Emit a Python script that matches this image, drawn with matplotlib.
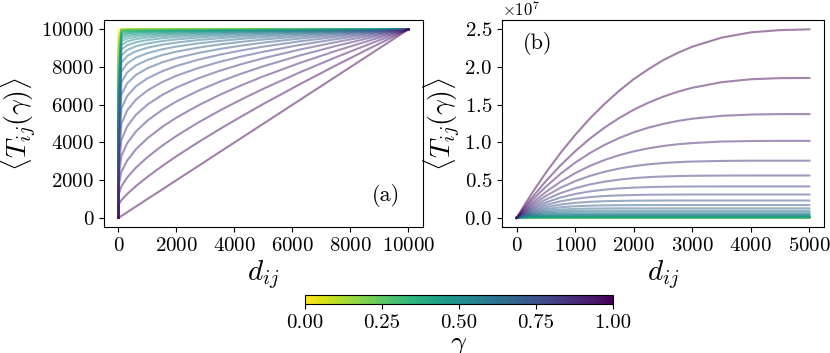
import matplotlib
matplotlib.use("Agg")
import matplotlib.pyplot as plt
from matplotlib import cm, colors
from matplotlib.ticker import MultipleLocator

plt.rcParams.update({
    "font.family": "serif",
    "font.serif": ["cmr10"],
    "mathtext.fontset": "cm",
    "axes.formatter.use_mathtext": True,
    "axes.unicode_minus": False,
})

# gamma of each curve, row order of the tables below
gamma = [1.0, 0.967, 0.933, 0.9, 0.867, 0.833, 0.8, 0.767, 0.733, 0.7,
         0.667, 0.633, 0.6, 0.567, 0.533, 0.5, 0.467, 0.433, 0.4, 0.367,
         0.333, 0.3, 0.267, 0.233, 0.2, 0.167, 0.133, 0.1, 0.067, 0.033, 0.0]

# panel (a): <T_ij> read at these distances
d_a = [0, 1, 100, 300, 600, 1000, 1500, 2000, 2750, 3500, 4250, 5000,
       6250, 7500, 8750, 10000]
tij_a = [
    [0, 1, 100, 300, 600, 1000, 1500, 2000, 2750, 3500, 4250, 5000, 6250, 7500, 8750, 10000],
    [0, 704, 938, 1265, 1684, 2177, 2742, 3271, 4013, 4717, 5390, 6046, 7087, 8090, 9058, 10000],
    [0, 1210, 1671, 2142, 2663, 3223, 3821, 4348, 5058, 5699, 6292, 6851, 7715, 8521, 9280, 10000],
    [0, 1660, 2449, 3044, 3636, 4225, 4818, 5319, 5966, 6531, 7042, 7509, 8216, 8857, 9449, 10000],
    [0, 2077, 3279, 3961, 4581, 5163, 5720, 6176, 6745, 7231, 7657, 8042, 8613, 9118, 9579, 10000],
    [0, 2471, 4136, 4858, 5466, 6010, 6515, 6915, 7402, 7808, 8158, 8470, 8926, 9322, 9678, 10000],
    [0, 2851, 4989, 5702, 6271, 6760, 7199, 7540, 7948, 8280, 8563, 8813, 9171, 9480, 9754, 10000],
    [0, 3214, 5797, 6467, 6976, 7401, 7773, 8057, 8390, 8659, 8885, 9083, 9363, 9602, 9813, 10000],
    [0, 3566, 6537, 7138, 7580, 7938, 8246, 8478, 8747, 8961, 9139, 9294, 9512, 9696, 9857, 10000],
    [0, 3910, 7193, 7714, 8085, 8381, 8631, 8817, 9031, 9200, 9339, 9459, 9627, 9769, 9892, 10000],
    [0, 4244, 7754, 8193, 8499, 8739, 8939, 9087, 9255, 9386, 9495, 9587, 9717, 9825, 9918, 10000],
    [0, 4574, 8227, 8589, 8836, 9026, 9184, 9299, 9430, 9532, 9615, 9686, 9785, 9868, 9938, 10000],
    [0, 4893, 8615, 8907, 9102, 9253, 9376, 9466, 9566, 9645, 9708, 9763, 9838, 9900, 9953, 10000],
    [0, 5210, 8928, 9160, 9314, 9430, 9525, 9594, 9672, 9731, 9780, 9821, 9878, 9925, 9965, 10000],
    [0, 5520, 9178, 9359, 9479, 9569, 9641, 9694, 9753, 9798, 9834, 9866, 9908, 9944, 9974, 10000],
    [0, 5823, 9375, 9515, 9606, 9675, 9730, 9770, 9815, 9848, 9876, 9899, 9932, 9958, 9980, 10000],
    [0, 6126, 9530, 9637, 9706, 9757, 9799, 9829, 9862, 9887, 9908, 9925, 9949, 9969, 9985, 10000],
    [0, 6421, 9648, 9728, 9781, 9819, 9850, 9873, 9898, 9917, 9932, 9945, 9962, 9977, 9989, 10000],
    [0, 6714, 9738, 9799, 9838, 9867, 9890, 9906, 9925, 9939, 9950, 9959, 9972, 9983, 9992, 10000],
    [0, 7005, 9808, 9853, 9879, 9902, 9918, 9931, 9944, 9955, 9963, 9970, 9980, 9988, 9994, 10000],
    [0, 7290, 9860, 9893, 9913, 9929, 9941, 9950, 9960, 9967, 9973, 9978, 9985, 9991, 9996, 10000],
    [0, 7573, 9899, 9923, 9937, 9949, 9958, 9964, 9971, 9976, 9981, 9984, 9990, 9994, 9997, 10000],
    [0, 7851, 9928, 9945, 9955, 9964, 9970, 9975, 9979, 9983, 9986, 9989, 9992, 9995, 9998, 10000],
    [0, 8128, 9950, 9962, 9969, 9975, 9979, 9982, 9986, 9988, 9991, 9992, 9995, 9997, 9998, 10000],
    [0, 8403, 9966, 9974, 9979, 9983, 9986, 9988, 9990, 9992, 9994, 9995, 9996, 9998, 9999, 10000],
    [0, 8674, 9977, 9982, 9986, 9988, 9990, 9992, 9994, 9995, 9996, 9997, 9998, 9999, 9999, 10000],
    [0, 8944, 9985, 9989, 9991, 9993, 9994, 9995, 9996, 9997, 9997, 9998, 9999, 9999, 10000, 10000],
    [0, 9211, 9991, 9993, 9995, 9996, 9996, 9997, 9998, 9998, 9999, 9999, 10000, 10000, 10000, 10000],
    [0, 9476, 9995, 9996, 9997, 9998, 9998, 9998, 9999, 9999, 9999, 9999, 10000, 10000, 10000, 10000],
    [0, 9739, 9998, 9999, 9999, 9999, 9999, 10000, 10000, 10000, 10000, 10000, 10000, 10000, 10000, 10000],
    [0, 10000, 10000, 10000, 10000, 10000, 10000, 10000, 10000, 10000, 10000, 10000, 10000, 10000, 10000, 10000],
]

# panel (b): <T_ij> in units of 1e6
d_b = [0, 100, 250, 500, 750, 1000, 1250, 1500, 1750, 2000, 2250, 2500,
       2750, 3000, 3500, 4000, 4500, 5000]
tij_b = [
    [0, 1.28, 3.13, 6.00, 8.61, 11.0, 13.17, 15.1, 16.84, 18.4, 19.71, 20.9, 21.87, 22.7, 23.9, 24.6, 24.9, 25.0],
    [0, 1.06, 2.56, 4.88, 6.97, 8.83, 10.50, 11.96, 13.23, 14.34, 15.27, 16.06, 16.72, 17.25, 17.99, 18.38, 18.53, 18.55],
    [0, 0.91, 2.20, 4.14, 5.84, 7.32, 8.59, 9.67, 10.58, 11.34, 11.96, 12.45, 12.85, 13.15, 13.53, 13.70, 13.76, 13.76],
    [0, 0.78, 1.85, 3.44, 4.79, 5.93, 6.89, 7.67, 8.31, 8.82, 9.22, 9.53, 9.76, 9.92, 10.12, 10.19, 10.21, 10.21],
    [0, 0.67, 1.59, 2.91, 3.99, 4.87, 5.56, 6.11, 6.54, 6.86, 7.10, 7.27, 7.39, 7.47, 7.55, 7.58, 7.58, 7.58],
    [0, 0.58, 1.36, 2.44, 3.28, 3.93, 4.43, 4.80, 5.07, 5.27, 5.40, 5.49, 5.54, 5.58, 5.61, 5.62, 5.62, 5.62],
    [0, 0.50, 1.17, 2.04, 2.70, 3.17, 3.51, 3.74, 3.91, 4.01, 4.08, 4.12, 4.15, 4.16, 4.17, 4.17, 4.17, 4.17],
    [0, 0.44, 1.00, 1.71, 2.20, 2.53, 2.75, 2.90, 2.98, 3.03, 3.07, 3.08, 3.09, 3.10, 3.10, 3.10, 3.10, 3.10],
    [0, 0.38, 0.85, 1.41, 1.77, 1.99, 2.13, 2.21, 2.25, 2.28, 2.29, 2.30, 2.30, 2.30, 2.30, 2.30, 2.30, 2.30],
    [0, 0.33, 0.72, 1.15, 1.40, 1.54, 1.62, 1.66, 1.68, 1.69, 1.70, 1.70, 1.70, 1.70, 1.70, 1.70, 1.70, 1.70],
    [0, 0.28, 0.60, 0.93, 1.10, 1.19, 1.23, 1.25, 1.26, 1.26, 1.26, 1.26, 1.26, 1.26, 1.26, 1.26, 1.26, 1.26],
    [0, 0.25, 0.50, 0.75, 0.86, 0.91, 0.93, 0.94, 0.94, 0.94, 0.94, 0.94, 0.94, 0.94, 0.94, 0.94, 0.94, 0.94],
    [0, 0.21, 0.42, 0.60, 0.67, 0.69, 0.70, 0.70, 0.70, 0.70, 0.70, 0.70, 0.70, 0.70, 0.70, 0.70, 0.70, 0.70],
    [0, 0.18, 0.34, 0.46, 0.50, 0.515, 0.52, 0.52, 0.52, 0.52, 0.52, 0.52, 0.52, 0.52, 0.52, 0.52, 0.52, 0.52],
    [0, 0.15, 0.27, 0.35, 0.37, 0.38, 0.38, 0.38, 0.38, 0.38, 0.38, 0.38, 0.38, 0.38, 0.38, 0.38, 0.38, 0.38],
    [0, 0.12, 0.21, 0.265, 0.275, 0.28, 0.28, 0.28, 0.28, 0.28, 0.28, 0.28, 0.28, 0.28, 0.28, 0.28, 0.28, 0.28],
    [0, 0.10, 0.165, 0.20, 0.205, 0.21, 0.21, 0.21, 0.21, 0.21, 0.21, 0.21, 0.21, 0.21, 0.21, 0.21, 0.21, 0.21],
    [0, 0.08, 0.13, 0.155, 0.16, 0.16, 0.16, 0.16, 0.16, 0.16, 0.16, 0.16, 0.16, 0.16, 0.16, 0.16, 0.16, 0.16],
    [0, 0.065, 0.10, 0.118, 0.12, 0.12, 0.12, 0.12, 0.12, 0.12, 0.12, 0.12, 0.12, 0.12, 0.12, 0.12, 0.12, 0.12],
    [0, 0.05, 0.08, 0.09, 0.09, 0.09, 0.09, 0.09, 0.09, 0.09, 0.09, 0.09, 0.09, 0.09, 0.09, 0.09, 0.09, 0.09],
    [0, 0.04, 0.06, 0.065, 0.065, 0.065, 0.065, 0.065, 0.065, 0.065, 0.065, 0.065, 0.065, 0.065, 0.065, 0.065, 0.065, 0.065],
    [0, 0.035, 0.05, 0.05, 0.05, 0.05, 0.05, 0.05, 0.05, 0.05, 0.05, 0.05, 0.05, 0.05, 0.05, 0.05, 0.05, 0.05],
    [0, 0.025, 0.035, 0.035, 0.035, 0.035, 0.035, 0.035, 0.035, 0.035, 0.035, 0.035, 0.035, 0.035, 0.035, 0.035, 0.035, 0.035],
    [0, 0.018, 0.026, 0.026, 0.026, 0.026, 0.026, 0.026, 0.026, 0.026, 0.026, 0.026, 0.026, 0.026, 0.026, 0.026, 0.026, 0.026],
    [0, 0.014, 0.02, 0.02, 0.02, 0.02, 0.02, 0.02, 0.02, 0.02, 0.02, 0.02, 0.02, 0.02, 0.02, 0.02, 0.02, 0.02],
    [0, 0.011, 0.015, 0.015, 0.015, 0.015, 0.015, 0.015, 0.015, 0.015, 0.015, 0.015, 0.015, 0.015, 0.015, 0.015, 0.015, 0.015],
    [0, 0.008, 0.011, 0.011, 0.011, 0.011, 0.011, 0.011, 0.011, 0.011, 0.011, 0.011, 0.011, 0.011, 0.011, 0.011, 0.011, 0.011],
    [0, 0.006, 0.008, 0.008, 0.008, 0.008, 0.008, 0.008, 0.008, 0.008, 0.008, 0.008, 0.008, 0.008, 0.008, 0.008, 0.008, 0.008],
    [0, 0.004, 0.006, 0.006, 0.006, 0.006, 0.006, 0.006, 0.006, 0.006, 0.006, 0.006, 0.006, 0.006, 0.006, 0.006, 0.006, 0.006],
    [0, 0.003, 0.004, 0.004, 0.004, 0.004, 0.004, 0.004, 0.004, 0.004, 0.004, 0.004, 0.004, 0.004, 0.004, 0.004, 0.004, 0.004],
    [0, 0.002, 0.003, 0.003, 0.003, 0.003, 0.003, 0.003, 0.003, 0.003, 0.003, 0.003, 0.003, 0.003, 0.003, 0.003, 0.003, 0.003],
]

cmap = plt.get_cmap("viridis_r")
norm = colors.Normalize(vmin=0, vmax=1)

fig = plt.figure(figsize=(8.3, 3.53), dpi=100)
ax_a = fig.add_axes([0.1253, 0.3561, 0.3843, 0.5875])
ax_b = fig.add_axes([0.6048, 0.3561, 0.388, 0.5875])

# draw small gamma first so the purple curves sit on top
for g, row in reversed(list(zip(gamma, tij_a))):
    ax_a.plot(d_a, row, color=cmap(norm(g)), alpha=0.5, lw=1.5)
for g, row in reversed(list(zip(gamma, tij_b))):
    ax_b.plot(d_b, [v * 1e6 for v in row], color=cmap(norm(g)), alpha=0.5, lw=1.5)

ax_a.xaxis.set_major_locator(MultipleLocator(2000))
ax_a.yaxis.set_major_locator(MultipleLocator(2000))
ax_b.xaxis.set_major_locator(MultipleLocator(1000))
ax_b.yaxis.set_major_locator(MultipleLocator(0.5e7))

for ax in (ax_a, ax_b):
    ax.tick_params(labelsize=15)
    ax.set_xlabel(r"$d_{ij}$", fontsize=21, labelpad=2)
    ax.set_ylabel(r"$\langle T_{ij}(\gamma)\rangle$", fontsize=20, labelpad=2)
ax_b.yaxis.get_offset_text().set_fontsize(12)

ax_a.text(0.885, 0.155, "(a)", transform=ax_a.transAxes, fontsize=16,
          ha="center", va="center")
ax_b.text(0.11, 0.885, "(b)", transform=ax_b.transAxes, fontsize=16,
          ha="center", va="center")

cax = fig.add_axes([0.3675, 0.1388, 0.371, 0.0255])
sm = cm.ScalarMappable(norm=norm, cmap=cmap)
cb = fig.colorbar(sm, cax=cax, orientation="horizontal",
                  ticks=[0, 0.25, 0.5, 0.75, 1.0], format="%.2f")
cb.ax.tick_params(labelsize=15)
cb.set_label(r"$\gamma$", fontsize=20, labelpad=0)

fig.savefig("out.png", dpi=100)
